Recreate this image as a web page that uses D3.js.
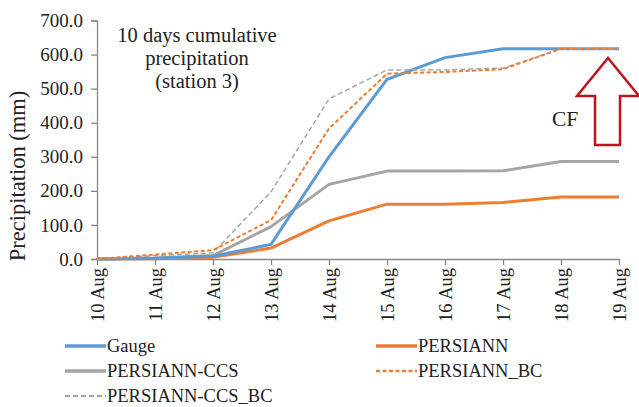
<!DOCTYPE html>
<html><head><meta charset="utf-8">
<script src="https://cdn.jsdelivr.net/npm/d3@7"></script>
<style>body{margin:0;background:#fff}svg{display:block}svg text{font-family:'Liberation Serif','Times New Roman',Tinos,'DejaVu Serif',serif !important;fill:#222}</style>
</head><body><svg id="c" width="639" height="407"></svg>
<script>
const dates = ["10 Aug","11 Aug","12 Aug","13 Aug","14 Aug","15 Aug","16 Aug","17 Aug","18 Aug","19 Aug"];
const gauge = [0, 2, 8, 43, 300, 527, 591, 617, 617, 617];
const persiann = [0, 1, 5, 32, 112, 161, 161, 166, 182, 182];
const persiannCCS = [0, 3, 10, 95, 219, 258, 258, 259, 286, 286];
const persiannBC = [0, 13, 26, 114, 383, 544, 549, 557, 617, 617];
const persiannCCSBC = [0, 10, 18, 197, 470, 555, 555, 560, 617, 617];
const yTicks = [0,100,200,300,400,500,600,700];
const seriesNames = ["Gauge","PERSIANN","PERSIANN-CCS","PERSIANN_BC","PERSIANN-CCS_BC"];

const series = [
  {name: seriesNames[0], values: gauge, color:"#5B9BD5", w:3, dash:null},
  {name: seriesNames[1], values: persiann, color:"#ED7D31", w:3, dash:null},
  {name: seriesNames[2], values: persiannCCS, color:"#A5A5A5", w:3, dash:null},
  {name: seriesNames[3], values: persiannBC, color:"#ED7D31", w:2, dash:"4,2.5"},
  {name: seriesNames[4], values: persiannCCSBC, color:"#A5A5A5", w:1.5, dash:"5,3"}
];

const FONT = "'Liberation Serif','Times New Roman',Tinos,'DejaVu Serif',serif";
const svg = d3.select("#c");
const x = d3.scalePoint().domain(dates).range([97, 619]);
const y = d3.scaleLinear().domain([0,700]).range([259, 20.5]);

// axes
const ya = svg.append("g").attr("transform","translate(97,0)")
  .call(d3.axisLeft(y).tickValues(yTicks).tickFormat(d3.format(".1f")).tickSize(6).tickPadding(8));
ya.attr("font-family", FONT).attr("font-size", null);
ya.select(".domain").attr("stroke","#888").attr("stroke-width",1.3);
ya.selectAll(".tick line").attr("stroke","#888").attr("stroke-width",1.3);
ya.selectAll("text").attr("font-size","19px").attr("fill","#222");

const xa = svg.append("g").attr("transform","translate(0,259)")
  .call(d3.axisBottom(x).tickSize(6).tickSizeOuter(0));
xa.attr("font-family", FONT).attr("font-size", null);
xa.select(".domain").attr("stroke","#888").attr("stroke-width",1.3);
xa.selectAll(".tick line").attr("stroke","#888").attr("stroke-width",1.3);
xa.selectAll("text").attr("font-size","18.5px").attr("fill","#222")
  .attr("transform","rotate(-90)").attr("text-anchor","end").attr("x",-9).attr("y",0).attr("dy","0.35em");

// lines
const line = d3.line().x((d,i)=>x(dates[i])).y(d=>y(d));
const draw = [series[2], series[1], series[0], series[4], series[3]];
svg.append("g").selectAll("path").data(draw).join("path")
  .attr("d", d=>line(d.values)).attr("fill","none")
  .attr("stroke", d=>d.color).attr("stroke-width", d=>d.w)
  .attr("stroke-dasharray", d=>d.dash).attr("stroke-linejoin","round");

// title
const t = svg.append("text").attr("text-anchor","middle").attr("font-family",FONT).attr("font-size","20.5px");
["10 days cumulative","precipitation","(station 3)"].forEach((s,i)=>
  t.append("tspan").attr("x",197).attr("y",42+i*23).text(s));

// y title
svg.append("text").attr("transform","translate(25,176) rotate(-90)").attr("text-anchor","middle")
  .attr("font-family",FONT).attr("font-size","22.5px").text("Precipitation (mm)");

// CF arrow
const ax = 608;
svg.append("path").attr("d",
  `M${ax},58 L${ax+31},96 L${ax+12},96 L${ax+12},145 L${ax-13},145 L${ax-13},96 L${ax-31},96 Z`)
  .attr("fill","none").attr("stroke","#C0141C").attr("stroke-width",2.5).attr("stroke-linejoin","miter");
svg.append("text").attr("x",552).attr("y",126).attr("font-family",FONT).attr("font-size","21.5px").text("CF");

// legend
const legPos = [[65,346],[376,346],[65,371],[376,371],[65,396]];
const lg = svg.append("g").selectAll("g").data(series).join("g")
  .attr("transform",(d,i)=>`translate(${legPos[i][0]},${legPos[i][1]})`);
lg.append("line").attr("x1",0).attr("x2",41).attr("y1",0).attr("y2",0)
  .attr("stroke",d=>d.color).attr("stroke-width",d=>d.w+0.5).attr("stroke-dasharray",d=>d.dash);
lg.append("text").attr("x",42).attr("y",0).attr("dy","0.33em").attr("font-family",FONT).attr("font-size","18.5px").text(d=>d.name);
</script></body></html>
